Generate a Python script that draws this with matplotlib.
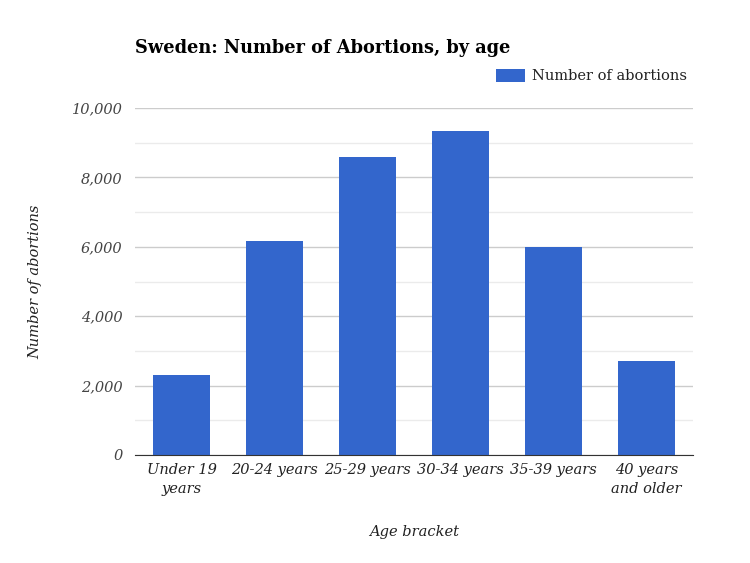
import matplotlib
matplotlib.use("Agg")
import matplotlib.pyplot as plt
from matplotlib.ticker import MultipleLocator, FuncFormatter

categories = ["Under 19\nyears", "20-24 years", "25-29 years", "30-34 years",
              "35-39 years", "40 years\nand older"]
abortions = [2310, 6180, 8600, 9340, 6000, 2710]

BLUE = "#3366cc"
FONT = "DejaVu Serif"

fig = plt.figure(figsize=(7.5, 5.63), dpi=100)
ax = fig.add_axes([0.18, 0.192, 0.744, 0.616])

x = range(len(categories))
ax.bar(x, abortions, width=0.62, color=BLUE, zorder=3, label="Number of abortions")

ax.set_xlim(-0.5, len(categories) - 0.5)
ax.set_ylim(0, 10000)
ax.yaxis.set_major_locator(MultipleLocator(2000))
ax.yaxis.set_minor_locator(MultipleLocator(1000))
ax.yaxis.set_major_formatter(FuncFormatter(lambda v, p: f"{int(v):,}"))
ax.grid(axis="y", which="major", color="#cccccc", lw=1, zorder=0)
ax.grid(axis="y", which="minor", color="#ebebeb", lw=1, zorder=0)
ax.tick_params(axis="both", which="both", length=0)
ax.tick_params(axis="y", pad=9)
ax.tick_params(axis="x", pad=6)
for s in ["top", "right", "left"]:
    ax.spines[s].set_visible(False)
ax.spines["bottom"].set_color("#333333")
ax.spines["bottom"].set_zorder(4)

ax.set_xticks(list(x))
ax.set_xticklabels(categories, fontsize=10.5, style="italic", family=FONT,
                   color="#222222", linespacing=1.4)
for t in ax.get_yticklabels():
    t.set_family(FONT); t.set_style("italic"); t.set_fontsize(10.5); t.set_color("#444444")

ax.set_xlabel("Age bracket", fontsize=10.5, style="italic", family=FONT,
              color="#222222", labelpad=21)
ax.set_ylabel("Number of abortions", fontsize=10.5, style="italic", family=FONT,
              color="#222222", labelpad=21)

fig.text(0.18, 0.915, "Sweden: Number of Abortions, by age", fontsize=12.8,
         fontweight="bold", family=FONT, color="#000000", va="center")

leg = ax.legend(loc="center right", bbox_to_anchor=(1.0, 1.092), frameon=False,
                prop={"family": FONT, "size": 10.5}, handlelength=2.0,
                handleheight=1.0, borderaxespad=0, handletextpad=0.5)
for t in leg.get_texts():
    t.set_color("#222222")

fig.savefig("out.png", dpi=100)
